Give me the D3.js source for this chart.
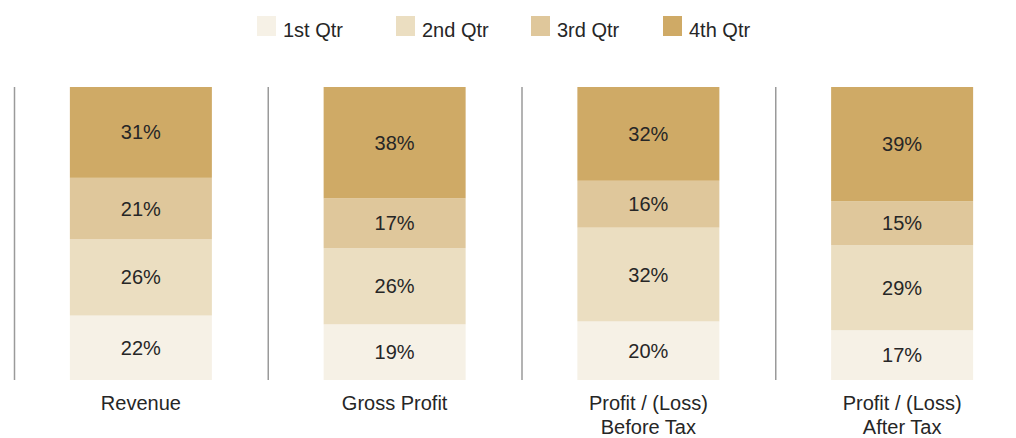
<!DOCTYPE html>
<html><head><meta charset="utf-8">
<script src="https://cdn.jsdelivr.net/npm/d3@7"></script>
<style>body{margin:0;background:#fff;}svg{display:block;font-family:"Liberation Sans",Arial,Helvetica,sans-serif;}</style>
</head><body>
<svg id="c" width="1016" height="438"></svg>
<script>
const categories = [["Revenue"], ["Gross Profit"], ["Profit / (Loss)", "Before Tax"], ["Profit / (Loss)", "After Tax"]];
const seriesNames = ["1st Qtr", "2nd Qtr", "3rd Qtr", "4th Qtr"];
const q1 = [22, 19, 20, 17];
const q2 = [26, 26, 32, 29];
const q3 = [21, 17, 16, 15];
const q4 = [31, 38, 32, 39];
const colors = ["#F6F1E6", "#EBDEC1", "#DFC79B", "#CFAA66"];

const svg = d3.select("#c");
const series = [q1, q2, q3, q4];
const rows = categories.map((c, i) => {
  const r = {key: i};
  seriesNames.forEach((s, j) => r[s] = series[j][i]);
  return r;
});
const stack = d3.stack().keys(seriesNames)(rows);

const x = d3.scaleBand().domain(d3.range(categories.length)).range([14, 1029]).paddingInner(0).paddingOuter(0);
const y = d3.scaleLinear().domain([0, 100]).range([380, 87]);
const barW = 142;
const cx = i => x(i) + x.bandwidth() / 2;
const textColor = "#262626";

// separators
svg.append("g").selectAll("line").data(d3.range(categories.length)).join("line")
  .attr("x1", i => x(i) + 0.5).attr("x2", i => x(i) + 0.5)
  .attr("y1", y(100)).attr("y2", y(0))
  .attr("stroke", "#9a9a9a").attr("stroke-width", 1.5);

const layers = svg.append("g").selectAll("g").data(stack).join("g")
  .attr("fill", (d, i) => colors[i]);
layers.selectAll("rect").data(d => d).join("rect")
  .attr("x", (d, i) => cx(i) - barW / 2)
  .attr("width", barW)
  .attr("y", d => y(d[1]))
  .attr("height", d => y(d[0]) - y(d[1]));

const lbl = svg.append("g");
stack.forEach(layer => {
  layer.forEach((d, i) => {
    lbl.append("text")
      .attr("x", cx(i)).attr("y", (y(d[0]) + y(d[1])) / 2)
      .attr("dy", "0.35em").attr("text-anchor", "middle")
      .attr("font-size", 20).attr("fill", textColor)
      .text((d[1] - d[0]) + "%");
  });
});

// category labels
const cat = svg.append("g");
categories.forEach((lines, i) => {
  const t = cat.append("text").attr("text-anchor", "middle").attr("font-size", 20).attr("fill", textColor);
  lines.forEach((ln, k) => {
    t.append("tspan").attr("x", cx(i)).attr("y", 410 + k * 24).text(ln);
  });
});

// legend
const legX = [257, 396, 531, 663];
const leg = svg.append("g");
seriesNames.forEach((s, j) => {
  leg.append("rect").attr("x", legX[j]).attr("y", 16).attr("width", 19).attr("height", 20).attr("fill", colors[j]);
  leg.append("text").attr("x", legX[j] + 26).attr("y", 37)
    .attr("font-size", 20).attr("fill", textColor).text(s);
});
</script>
</body></html>
